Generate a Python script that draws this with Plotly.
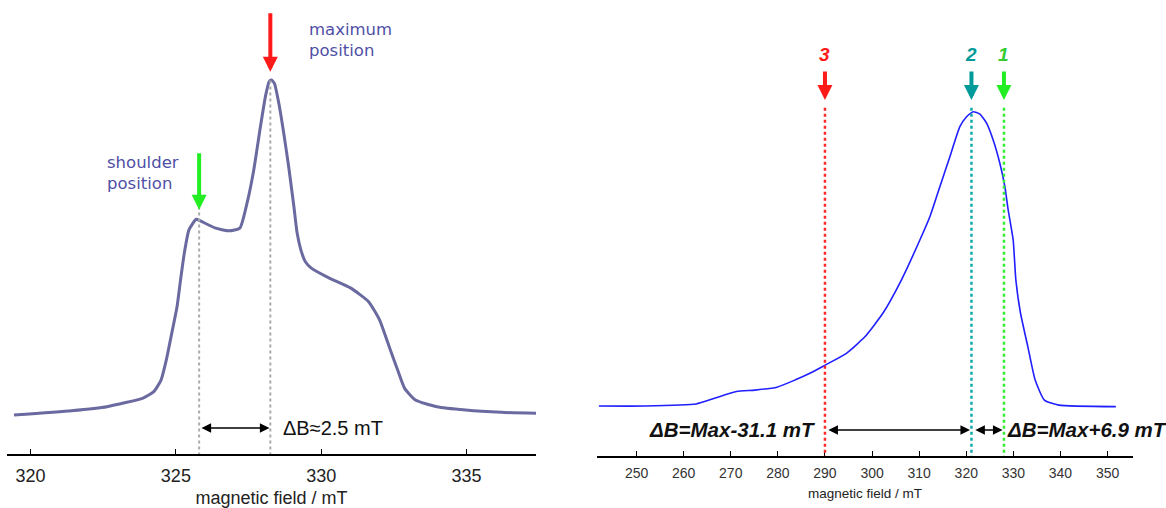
import plotly.graph_objects as go

# ---------------- data ----------------
# Left panel: EPR-like spectrum (magnetic field in mT, normalized intensity)
left_field = [319.43, 321.41, 322.63, 323.87, 324.24, 324.49, 324.67, 324.86, 325.04,
              325.16, 325.29, 325.45, 325.70, 325.84, 326.34, 326.83, 327.20, 327.45,
              327.68, 327.91, 328.08, 328.21, 328.29, 328.39, 328.54, 328.71, 328.88,
              329.06, 329.17, 329.30, 329.45, 329.66, 330.28, 331.02, 331.63, 332.01,
              332.38, 332.63, 332.87, 333.24, 333.98, 334.97, 336.20, 337.39]
left_int = [-0.006, 0.007, 0.019, 0.045, 0.064, 0.099, 0.159, 0.240, 0.319,
            0.399, 0.480, 0.550, 0.582, 0.577, 0.556, 0.547, 0.555, 0.631,
            0.730, 0.860, 0.950, 0.995, 1.000, 0.990, 0.931, 0.841, 0.740,
            0.620, 0.541, 0.490, 0.455, 0.435, 0.405, 0.375, 0.334, 0.279,
            0.189, 0.129, 0.074, 0.039, 0.019, 0.009, 0.002, -0.001]

# Right panel: broad asymmetric spectrum
right_field = [242.0, 251.76, 262.65, 266.54, 271.21, 275.12, 279.79, 283.61, 286.79,
               290.04, 294.56, 298.47, 302.29, 306.22, 310.15, 312.27, 314.39, 316.52,
               318.64, 320.06, 321.46, 322.89, 324.31, 325.71, 327.13, 328.20, 328.90,
               329.96, 330.53, 331.51, 333.08, 334.63, 336.58, 339.66, 351.76]
right_int = [0.0, 0.0, 0.007, 0.026, 0.049, 0.054, 0.064, 0.088, 0.111,
             0.139, 0.179, 0.235, 0.315, 0.428, 0.564, 0.643, 0.745, 0.847,
             0.949, 0.983, 1.000, 0.992, 0.961, 0.904, 0.825, 0.745, 0.666,
             0.564, 0.428, 0.316, 0.201, 0.088, 0.020, 0.003, -0.002]

left_ticks = [320, 325, 330, 335]
right_ticks = [250, 260, 270, 280, 290, 300, 310, 320, 330, 340, 350]

shoulder_B, shoulder_I = 325.8, 0.58
max_B_left, max_I_left = 328.25, 1.0
pos3_B, pos2_B, pos1_B = 290.0, 321.1, 328.0

LEFT_LINE = "#6a6aa0"
LABEL_BLUE = "#4f4fa6"
RED = "#ff1a1a"
TEAL = "#009a9a"
GREEN = "#22ee22"
FONT = "Liberation Sans, Arial"

W, H = 1166, 508
fig = go.Figure()

fig.add_trace(go.Scatter(x=left_field, y=left_int, mode="lines",
                         line=dict(color=LEFT_LINE, width=3, shape="spline", smoothing=0.5),
                         xaxis="x", yaxis="y", showlegend=False, hoverinfo="skip"))
fig.add_trace(go.Scatter(x=right_field, y=right_int, mode="lines",
                         line=dict(color="#1f1fff", width=1.6, shape="spline", smoothing=0.5),
                         xaxis="x2", yaxis="y2", showlegend=False, hoverinfo="skip"))

# dotted guide lines
shapes = [
    dict(type="line", xref="x", yref="y", x0=shoulder_B, x1=shoulder_B, y0=-0.2, y1=shoulder_I + 0.04,
         line=dict(color="#aaaaaa", width=2, dash="dot")),
    dict(type="line", xref="x", yref="y", x0=max_B_left, x1=max_B_left, y0=-0.2, y1=max_I_left,
         line=dict(color="#aaaaaa", width=2, dash="dot")),
]
for b, c in [(pos3_B, "#ff2a2a"), (pos2_B, "#11aaaa"), (pos1_B, "#33ee33")]:
    shapes.append(dict(type="line", xref="x2", yref="y2", x0=b, x1=b, y0=-0.2, y1=1.016,
                       line=dict(color=c, width=2.5, dash="dot")))

ann = []
# coloured position arrows
def down_arrow(xref, yref, x, y, color, length):
    ann.append(dict(xref=xref, yref=yref, x=x, y=y, ax=0, ay=-length, text="", showarrow=True,
                    arrowhead=2, arrowsize=0.75, arrowwidth=4, arrowcolor=color, standoff=0))

down_arrow("x", "y", shoulder_B, 0.61, GREEN, 58)
down_arrow("x", "y", max_B_left, 1.025, RED, 60)
for b, c in [(pos3_B, RED), (pos2_B, TEAL), (pos1_B, GREEN)]:
    down_arrow("x2", "y2", b, 1.04, c, 30)

# number labels
for b, c, t in [(pos3_B, "#ff1a1a", "3"), (pos2_B, TEAL, "2"), (pos1_B, "#33cc33", "1")]:
    ann.append(dict(xref="x2", yref="y2", x=b, y=1.193, text=f"<b><i>{t}</i></b>", showarrow=False,
                    font=dict(family=FONT, size=19, color=c)))

# blue labels left panel
ann.append(dict(xref="x", yref="y", x=322.56, y=0.72, xanchor="left", yanchor="middle", align="left",
                text="shoulder<br>position", showarrow=False,
                font=dict(family="DejaVu Sans", size=16.5, color=LABEL_BLUE)))
ann.append(dict(xref="x", yref="y", x=329.5, y=1.12, xanchor="left", yanchor="middle", align="left",
                text="maximum<br>position", showarrow=False,
                font=dict(family="DejaVu Sans", size=16.5, color=LABEL_BLUE)))

# double arrows
ann.append(dict(xref="x", yref="y", axref="x", ayref="y", x=max_B_left - 0.03, y=-0.045,
                ax=shoulder_B + 0.03, ay=-0.045, text="", showarrow=True, arrowside="end+start",
                arrowhead=2, arrowsize=1.2, arrowwidth=1.6, arrowcolor="black", standoff=0, startstandoff=0))
ann.append(dict(xref="x2", yref="y2", axref="x2", ayref="y2", x=pos2_B - 0.3, y=-0.0815,
                ax=pos3_B + 0.4, ay=-0.0815, text="", showarrow=True, arrowside="end+start",
                arrowhead=2, arrowsize=1.2, arrowwidth=1.6, arrowcolor="black", standoff=0, startstandoff=0))
ann.append(dict(xref="x2", yref="y2", axref="x2", ayref="y2", x=pos1_B - 0.3, y=-0.0815,
                ax=pos2_B + 0.5, ay=-0.0815, text="", showarrow=True, arrowside="end+start",
                arrowhead=2, arrowsize=1.2, arrowwidth=1.6, arrowcolor="black", standoff=0, startstandoff=0))

ann.append(dict(xref="x", yref="y", x=328.6, y=-0.045, xanchor="left", yanchor="middle",
                text="ΔB≈2.5 mT", showarrow=False,
                font=dict(family=FONT, size=20, color="#111111")))
ann.append(dict(xref="x2", yref="y2", x=288.4, y=-0.0815, xanchor="right", yanchor="middle",
                text="<b><i>ΔB=Max-31.1 mT</i></b>", showarrow=False,
                font=dict(family=FONT, size=20.5, color="#111111")))
ann.append(dict(xref="x2", yref="y2", x=328.2, y=-0.0815, xanchor="left", yanchor="middle",
                text="<b><i>ΔB=Max+6.9 mT</i></b>", showarrow=False,
                font=dict(family=FONT, size=20.5, color="#111111")))

axis_common = dict(showline=True, linecolor="black", linewidth=1.5, ticks="inside", ticklen=5,
                   tickcolor="black", tickwidth=1, showgrid=False, zeroline=False, mirror=False)

fig.update_layout(
    width=W, height=H, margin=dict(l=0, r=0, t=0, b=0),
    paper_bgcolor="white", plot_bgcolor="white",
    xaxis=dict(domain=[7 / W, 536 / W], range=[319.19, 337.39], tickvals=left_ticks,
               ticklabelstandoff=5,
               tickfont=dict(family=FONT, size=18, color="#222222"),
               title=dict(text="magnetic field / mT", standoff=8,
                          font=dict(family=FONT, size=18, color="#222222")),
               anchor="y", **axis_common),
    yaxis=dict(domain=[(H - 454) / H, 1], range=[-0.1231, 1.2402], visible=False, anchor="x"),
    xaxis2=dict(domain=[597 / W, 1133 / W], range=[241.6, 355.4], tickvals=right_ticks,
                ticklabelstandoff=3,
                tickfont=dict(family=FONT, size=14, color="#333333"),
                title=dict(text="magnetic field / mT", standoff=9,
                           font=dict(family=FONT, size=13.5, color="#222222")),
                anchor="y2", **axis_common),
    yaxis2=dict(domain=[(H - 456) / H, 1], range=[-0.1699, 1.3795], visible=False, anchor="x2"),
    shapes=shapes, annotations=ann,
)

fig.write_html("out.html")
